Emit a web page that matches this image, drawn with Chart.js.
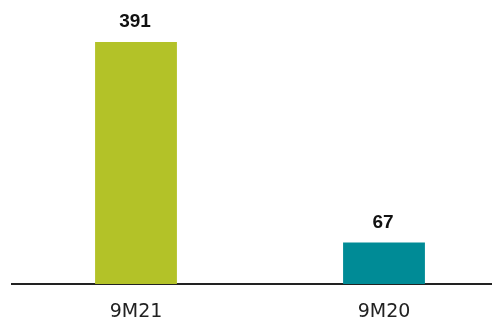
<!DOCTYPE html>
<html><head><meta charset="utf-8">
<script src="https://cdn.jsdelivr.net/npm/chart.js@4"></script>
<style>html,body{margin:0;padding:0;overflow:hidden;background:#fff}#wrap{width:508px;height:323px;position:relative}</style>
</head><body><div id="wrap"><canvas id="c"></canvas></div>
<script>
const categories = ["9M21", "9M20"];
const values = [391, 67];
const barColors = ["#b3c228", "#008b96"];

const valueLabels = {
  id: 'valueLabels',
  afterDatasetsDraw(chart) {
    const ctx = chart.ctx;
    const meta = chart.getDatasetMeta(0);
    ctx.save();
    ctx.font = 'bold 19px "Liberation Sans"';
    ctx.fillStyle = '#111';
    ctx.textAlign = 'center';
    ctx.textBaseline = 'alphabetic';
    meta.data.forEach((bar, i) => {
      ctx.fillText(String(values[i]), bar.x - 1, bar.y - 15);
    });
    ctx.restore();
  }
};

new Chart(document.getElementById('c'), {
  type: 'bar',
  data: { labels: categories, datasets: [{ data: values, backgroundColor: barColors, barPercentage: 0.33, categoryPercentage: 1 }] },
  options: {
    responsive: true, maintainAspectRatio: false, animation: false,
    layout: { padding: { left: 12, top: 0, right: 0, bottom: 0 } },
    plugins: { legend: { display: false }, tooltip: { enabled: false } },
    scales: {
      x: {
        grid: { display: false, drawTicks: false },
        border: { display: true, color: '#222', width: 2 },
        ticks: { color: '#222', padding: 17, font: { size: 19, family: '"DejaVu Sans"' } },
        afterFit(s) { s.height = 39; }
      },
      y: { display: false, min: 0, max: 459 }
    }
  },
  plugins: [valueLabels]
});
</script></body></html>
